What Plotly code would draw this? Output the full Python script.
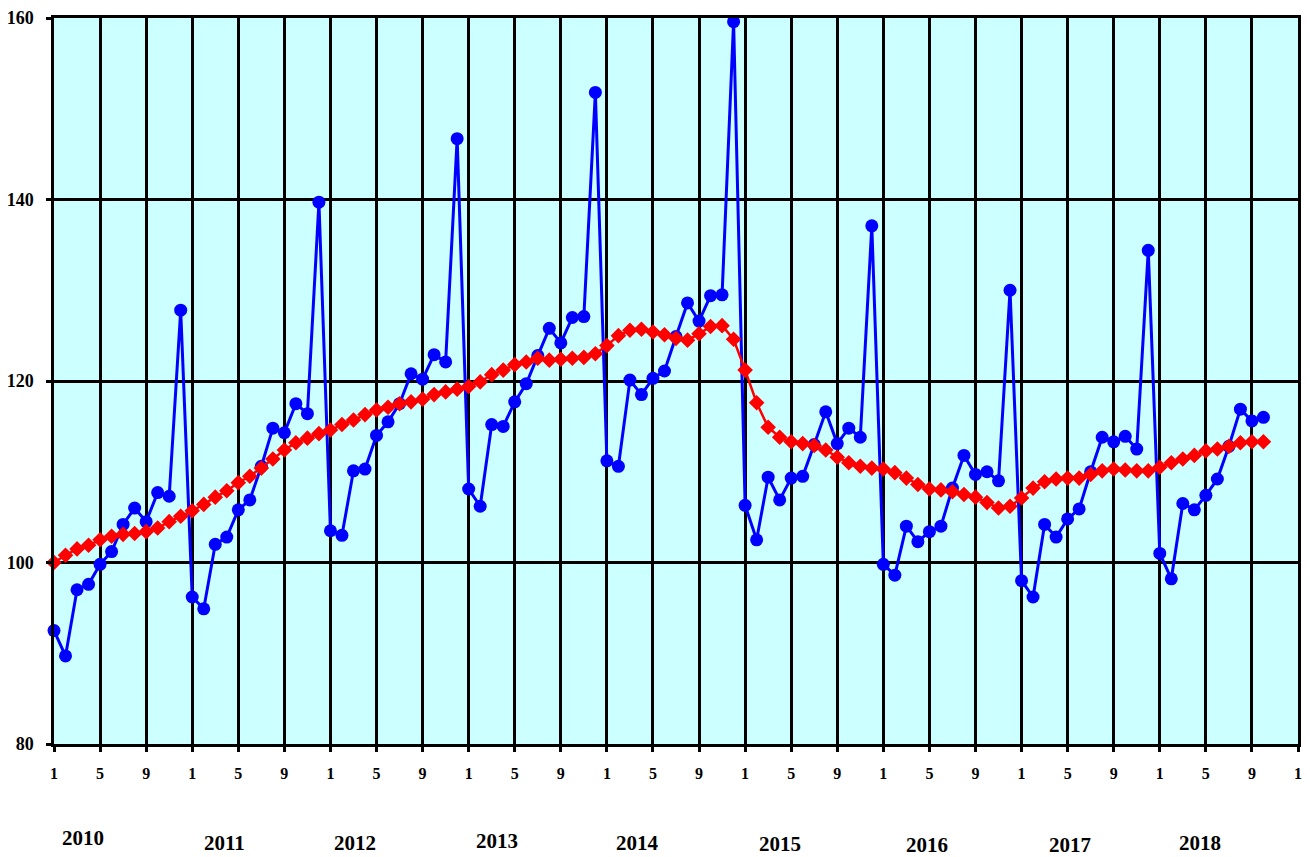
import plotly.graph_objects as go

years = [2010, 2011, 2012, 2013, 2014, 2015, 2016, 2017, 2018]

# Monthly index values (blue), Jan 2010 .. Oct 2018
index_values = [
    92.5, 89.7, 97.0, 97.6, 99.8, 101.2, 104.2, 106.0, 104.5, 107.7, 107.3, 127.8,
    96.2, 94.9, 102.0, 102.8, 105.8, 106.9, 110.6, 114.8, 114.3, 117.5, 116.4, 139.7,
    103.5, 103.0, 110.1, 110.3, 114.0, 115.5, 117.5, 120.8, 120.2, 122.9, 122.1, 146.7,
    108.1, 106.2, 115.2, 115.0, 117.7, 119.7, 122.8, 125.8, 124.2, 127.0, 127.1, 151.8,
    111.2, 110.6, 120.1, 118.5, 120.3, 121.1, 124.9, 128.6, 126.6, 129.4, 129.5, 159.6,
    106.3, 102.5, 109.4, 106.9, 109.3, 109.5, 113.0, 116.6, 113.1, 114.8, 113.8, 137.1,
    99.8, 98.6, 104.0, 102.3, 103.4, 104.0, 108.2, 111.8, 109.7, 110.0, 109.0, 130.0,
    98.0, 96.2, 104.2, 102.8, 104.8, 105.9, 110.0, 113.8, 113.3, 113.9, 112.5, 134.4,
    101.0, 98.2, 106.5, 105.8, 107.4, 109.2, 112.8, 116.9, 115.6, 116.0,
]

# Trend (red)
trend_values = [
    100.0, 100.8, 101.5, 101.9, 102.5, 102.9, 103.1, 103.2, 103.4, 103.8, 104.5, 105.1,
    105.7, 106.4, 107.2, 107.9, 108.8, 109.5, 110.4, 111.4, 112.4, 113.2, 113.7, 114.2,
    114.6, 115.2, 115.7, 116.3, 116.8, 117.1, 117.5, 117.7, 118.0, 118.5, 118.8, 119.1,
    119.4, 119.9, 120.7, 121.2, 121.8, 122.1, 122.5, 122.3, 122.4, 122.5, 122.6, 123.0,
    123.9, 125.0, 125.6, 125.7, 125.4, 125.1, 124.7, 124.5, 125.2, 126.0, 126.1, 124.6,
    121.2, 117.6, 114.9, 113.8, 113.3, 113.1, 112.9, 112.4, 111.6, 111.0, 110.6, 110.4,
    110.3, 109.9, 109.3, 108.6, 108.1, 108.0, 107.8, 107.5, 107.2, 106.6, 106.0, 106.2,
    107.1, 108.2, 108.9, 109.2, 109.3, 109.3, 109.7, 110.1, 110.3, 110.2, 110.1, 110.1,
    110.5, 111.0, 111.4, 111.8, 112.3, 112.5, 112.8, 113.2, 113.3, 113.3,
]

tick_months = [1, 5, 9]
y_ticks = [80, 100, 120, 140, 160]

n_months = len(years) * 12
x_blue = list(range(len(index_values)))
x_red = list(range(len(trend_values)))
tickvals = list(range(0, n_months + 1, 4))
ticktext = [str(tick_months[(v // 4) % 3]) for v in tickvals]

FONT = "Liberation Serif"

fig = go.Figure()
fig.add_trace(go.Scatter(
    x=x_blue, y=index_values, mode="lines+markers",
    line=dict(color="#0000FF", width=3),
    marker=dict(symbol="circle", size=13, color="#0000FF"),
    showlegend=False, cliponaxis=False,
))
fig.add_trace(go.Scatter(
    x=x_red, y=trend_values, mode="lines+markers",
    line=dict(color="#FF0000", width=2.5),
    marker=dict(symbol="diamond", size=12, color="#FF0000"),
    showlegend=False, cliponaxis=False,
))

# year labels under the axis
year_offsets = [2.5, 2.8, 2.1, 2.5, 2.7, 3.0, 3.8, 4.2, 3.5]
year_y = [-0.129, -0.136, -0.136, -0.133, -0.137, -0.138, -0.139, -0.139, -0.137]
for k, yr in enumerate(years):
    fig.add_annotation(
        x=k * 12 + year_offsets[k], y=year_y[k], xref="x", yref="paper",
        text=f"<b>{yr}</b>", showarrow=False,
        font=dict(family=FONT, size=21, color="black"),
        xanchor="center", yanchor="middle",
    )

fig.update_layout(
    width=1302, height=849,
    margin=dict(l=46, r=12, t=10, b=113, autoexpand=False),
    paper_bgcolor="white",
    plot_bgcolor="#CCFFFF",
    font=dict(family=FONT, color="black"),
)
fig.update_xaxes(
    range=[0, n_months], tickvals=tickvals, ticktext=ticktext,
    showgrid=True, gridcolor="black", gridwidth=2.5,
    showline=True, linecolor="black", linewidth=2.5, mirror=True,
    ticks="outside", ticklen=5, tickwidth=2.5, tickcolor="black",
    tickfont=dict(family=FONT, size=16, color="black", weight="bold"),
    ticklabelstandoff=8,
    zeroline=False,
)
fig.update_yaxes(
    range=[80, 160], tickvals=y_ticks,
    showgrid=True, gridcolor="black", gridwidth=2.5,
    showline=True, linecolor="black", linewidth=2.5, mirror=True,
    ticks="outside", ticklen=5, tickwidth=2.5, tickcolor="black",
    tickfont=dict(family=FONT, size=18, color="black", weight="bold"),
    ticklabelstandoff=9,
    zeroline=False,
)

fig.write_html("out.html")
